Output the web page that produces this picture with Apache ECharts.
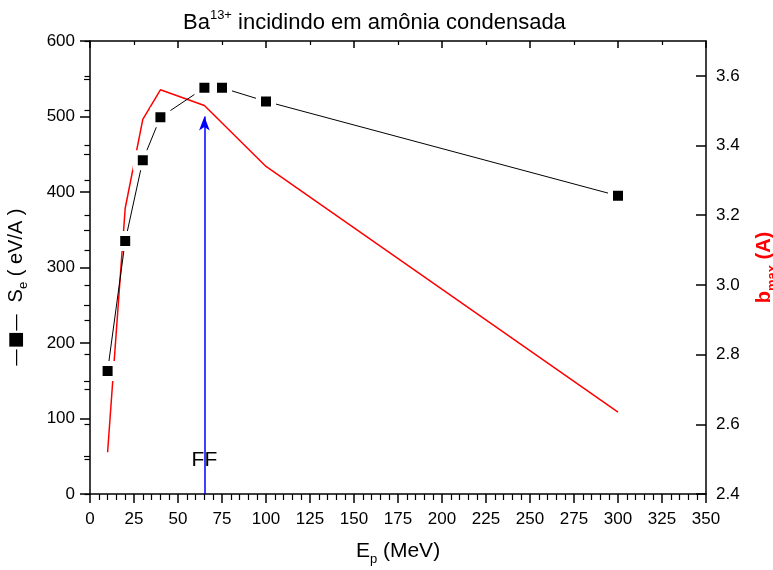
<!DOCTYPE html>
<html>
<head>
<meta charset="utf-8">
<title>Ba13+ em amônia condensada</title>
<script src="https://cdn.jsdelivr.net/npm/echarts@6/dist/echarts.min.js"></script>
<style>
  html, body { margin: 0; padding: 0; background: #fff; }
  #chart { width: 773px; height: 570px; }
</style>
</head>
<body>
<div id="chart"></div>
<script>
// Stopping power S_e (eV/A) vs projectile energy
const energySe = [10, 20, 30, 40, 65, 75, 100, 300];
const stoppingSe = [163, 335, 442, 499, 538, 538, 520, 395];

// Maximum impact parameter b_max (A) vs projectile energy
const energyB = [10, 20, 30, 40, 65, 100, 300];
const bMax = [2.52, 3.22, 3.475, 3.56, 3.515, 3.34, 2.635];

// Fission-fragment energy marker
const ffEnergy = 65;
const ffArrowTop = 500;
const ffLabelValue = 45;

const FONT = '"Liberation Sans", Arial, Helvetica, sans-serif';

const chart = echarts.init(document.getElementById('chart'));

const pairs = (xs, ys) => xs.map((x, i) => [x, ys[i]]);

const axisLineStyle = { color: '#000', width: 1.5 };

chart.setOption({
  backgroundColor: '#fff',
  animation: false,
  textStyle: { fontFamily: FONT },
  title: {
    text: 'Ba{sup|13+} incidindo em amônia condensada',
    left: 178,
    top: 4,
    textStyle: {
      fontFamily: FONT,
      fontSize: 22,
      fontWeight: 'normal',
      color: '#000',
      lineHeight: 28,
      rich: {
        sup: { fontSize: 13, verticalAlign: 'top', lineHeight: 13, fontFamily: FONT, color: '#000' }
      }
    }
  },
  grid: { left: 90, right: 67, top: 41, bottom: 76, containLabel: false, outerBoundsMode: 'none' },
  xAxis: [
    {
      type: 'value',
      position: 'bottom',
      min: 0, max: 350, interval: 25,
      name: 'E{sub|p} (MeV)',
      nameLocation: 'middle',
      nameGap: 42,
      nameTextStyle: {
        fontFamily: FONT, fontSize: 21, color: '#000', lineHeight: 30,
        rich: { sub: { fontSize: 13, verticalAlign: 'bottom', lineHeight: 13, fontFamily: FONT, color: '#000' } }
      },
      axisLine: { show: true, onZero: false, lineStyle: axisLineStyle },
      axisTick: { show: true, inside: false, length: 9, lineStyle: { color: '#000', width: 1.5 } },
      minorTick: { show: true, splitNumber: 5, length: 6, lineStyle: { color: '#000', width: 1.2 } },
      axisLabel: { fontFamily: FONT, fontSize: 17, color: '#000', margin: 17 },
      splitLine: { show: false }
    },
    {
      type: 'value',
      position: 'top',
      min: 0, max: 350, interval: 50,
      axisLine: { show: true, onZero: false, lineStyle: axisLineStyle },
      axisTick: { show: true, inside: true, length: 7, lineStyle: { color: '#000', width: 1.5 } },
      minorTick: { show: true, splitNumber: 2, length: 4, lineStyle: { color: '#000', width: 1.2 } },
      axisLabel: { show: false },
      splitLine: { show: false }
    }
  ],
  yAxis: [
    {
      type: 'value',
      position: 'left',
      min: 0, max: 600, interval: 100,
      name: '{sym|—■—}  S{sub|e} ( eV/A )',
      nameLocation: 'middle',
      nameGap: 60,
      nameTextStyle: {
        fontFamily: FONT, fontSize: 20, color: '#000', lineHeight: 28,
        padding: [0, 40, 0, 0],
        rich: {
          sym: { fontFamily: '"DejaVu Sans", ' + FONT, fontSize: 18, color: '#000', lineHeight: 28 },
          sub: { fontSize: 13, verticalAlign: 'bottom', lineHeight: 13, fontFamily: FONT, color: '#000' }
        }
      },
      axisLine: { show: true, onZero: false, lineStyle: axisLineStyle },
      axisTick: { show: true, inside: false, length: 10, lineStyle: { color: '#000', width: 1.5 } },
      minorTick: { show: true, splitNumber: 2, length: 6, lineStyle: { color: '#000', width: 1.2 } },
      axisLabel: { fontFamily: FONT, fontSize: 17, color: '#000', margin: 15 },
      splitLine: { show: false }
    },
    {
      type: 'value',
      position: 'right',
      min: 2.4, max: 3.7, interval: 0.2,
      name: 'b{sub|max} (A)',
      nameLocation: 'middle',
      nameGap: 44,
      nameRotate: 90,
      nameTextStyle: {
        fontFamily: FONT, fontSize: 20, fontWeight: 'bold', color: '#ff0000', lineHeight: 28,
        rich: { sub: { fontSize: 13, fontWeight: 'bold', verticalAlign: 'bottom', lineHeight: 13, fontFamily: FONT, color: '#ff0000' } }
      },
      axisLine: { show: true, onZero: false, lineStyle: axisLineStyle },
      axisTick: { show: true, inside: true, length: 10, lineStyle: { color: '#000', width: 1.5 } },
      axisLabel: {
        fontFamily: FONT, fontSize: 17, color: '#000', margin: 10,
        showMaxLabel: false,
        formatter: v => v.toFixed(1)
      },
      splitLine: { show: false }
    },
    {
      // minor ticks of the b_max axis (every 0.1)
      type: 'value',
      position: 'right',
      min: 2.4, max: 3.7, interval: 0.1,
      axisLine: { show: false },
      axisTick: { show: true, inside: true, length: 5.5, lineStyle: { color: '#000', width: 1.2 } },
      axisLabel: { show: false },
      splitLine: { show: false }
    }
  ],
  series: [
    {
      name: 'b_max',
      type: 'line',
      xAxisIndex: 0,
      yAxisIndex: 1,
      data: pairs(energyB, bMax),
      showSymbol: false,
      symbol: 'none',
      lineStyle: { color: '#ff0000', width: 1.5 },
      z: 2
    },
    {
      name: 'S_e',
      type: 'line',
      xAxisIndex: 0,
      yAxisIndex: 0,
      data: pairs(energySe, stoppingSe),
      symbol: 'rect',
      symbolSize: 15,
      itemStyle: { color: '#000', borderColor: '#fff', borderWidth: 5 },
      lineStyle: { color: '#000', width: 1 },
      z: 3,
      markLine: {
        silent: true,
        symbol: ['none', 'arrow'],
        symbolSize: [8, 14],
        label: { show: false },
        lineStyle: { color: '#0000ff', width: 1.5, type: 'solid' },
        data: [[{ coord: [ffEnergy, 0] }, { coord: [ffEnergy, ffArrowTop] }]]
      }
    },
    {
      name: 'FF',
      type: 'scatter',
      xAxisIndex: 0,
      yAxisIndex: 0,
      data: [[ffEnergy, ffLabelValue]],
      symbolSize: 0,
      itemStyle: { color: '#000', opacity: 1 },
      label: {
        show: true,
        position: 'inside',
        formatter: 'FF',
        fontFamily: FONT,
        fontSize: 21,
        color: '#000',
        opacity: 1,
        textBorderWidth: 0
      },
      z: 4
    }
  ]
});
</script>
</body>
</html>
